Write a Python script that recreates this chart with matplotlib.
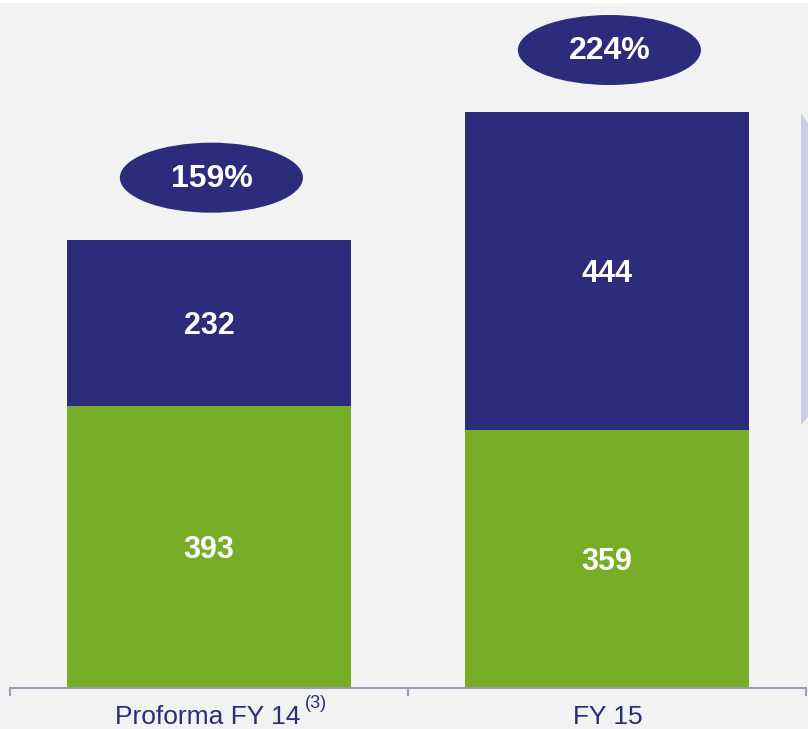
import numpy as np
import matplotlib.pyplot as plt
from matplotlib.patches import Ellipse, Polygon

categories = ['Proforma FY 14', 'FY 15']
green_vals = [393, 359]
navy_vals = [232, 444]
ratios = ['159%', '224%']

green = '#77ad27'
navy = '#2b2c7b'
bg = '#f2f2f2'

W, H = 808, 729
fig = plt.figure(figsize=(W / 100, H / 100), dpi=100, facecolor=bg)
# thin white strip at the very top
fig.patches.append(plt.Rectangle((0, 1 - 3 / H), 1, 3 / H, transform=fig.transFigure,
                                 facecolor='white', edgecolor='none'))
# partial lavender arrow on the right edge
fig.patches.append(Polygon([(801 / W, 1 - 113 / H), (808 / W, 1 - 123 / H),
                            (808 / W, 1 - 417 / H), (801 / W, 1 - 425 / H)],
                           closed=True, transform=fig.transFigure,
                           facecolor='#cdcdea', edgecolor='none'))

ax = fig.add_axes([10 / W, 41 / H, 796 / W, 688 / H])
ax.set_facecolor('none')
px_per_unit = 0.7173
ax.set_ylim(0, 688 / px_per_unit)
ax.set_xlim(-0.5, 1.5)

x = np.arange(len(categories))
totals = np.array(green_vals) + np.array(navy_vals)
bw = 0.714
ax.bar(x, green_vals, width=bw, color=green, zorder=2)
ax.bar(x, navy_vals, width=bw, bottom=green_vals, color=navy, zorder=2)

for i in range(len(x)):
    ax.text(x[i], green_vals[i] / 2 - 3 / px_per_unit, str(green_vals[i]), ha='center',
            va='center', color='white', fontsize=22, fontweight='bold',
            family='Liberation Sans')
    ax.text(x[i], green_vals[i] + navy_vals[i] / 2 - 3 / px_per_unit, str(navy_vals[i]),
            ha='center', va='center', color='white', fontsize=22, fontweight='bold',
            family='Liberation Sans')
    yc = totals[i] + 62 / px_per_unit
    ax.add_patch(Ellipse((x[i] + 0.006, yc), 0.46, 70 / px_per_unit, facecolor=navy,
                         edgecolor='none', zorder=3))
    ax.text(x[i] + 0.006, yc - 1 / px_per_unit, ratios[i], ha='center', va='center',
            color='white', fontsize=23, fontweight='bold', family='Liberation Sans',
            zorder=4)

for s in ['top', 'right', 'left']:
    ax.spines[s].set_visible(False)
ax.spines['bottom'].set_color('#9a9ab4')
ax.spines['bottom'].set_linewidth(1.5)
ax.set_yticks([])
ax.set_xticks([-0.5, 0.5, 1.5])
ax.set_xticklabels([])
ax.tick_params(axis='x', direction='out', length=6, width=1.5, color='#9a9ab4')

# category labels (cut by the bottom edge like the reference)
label_y = 1 - 705 / H
fig.text(208 / W, label_y, categories[0], ha='center', va='top', color=navy,
         fontsize=19, family='Liberation Sans')
fig.text(305 / W, 1 - 695 / H, '(3)', ha='left', va='top', color=navy,
         fontsize=13, family='Liberation Sans')
fig.text(608 / W, label_y, categories[1], ha='center', va='top', color=navy,
         fontsize=19, family='Liberation Sans')

fig.savefig('out.png', dpi=100, facecolor=bg)
